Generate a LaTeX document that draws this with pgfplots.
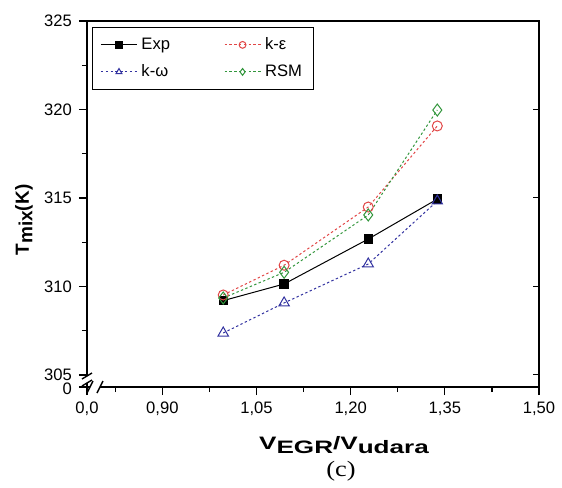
\documentclass[border=0pt]{standalone}
\usepackage{fontspec}
\setmainfont{Liberation Sans}
\newfontfamily\capfont{Liberation Serif}
\usepackage{pgfplots}
\pgfplotsset{compat=1.18}
\definecolor{cred}{RGB}{225,70,70}
\definecolor{cblue}{RGB}{50,50,160}
\definecolor{cgreen}{RGB}{50,150,60}
\begin{document}
\begin{tikzpicture}
\begin{axis}[
    name=ax,
    scale only axis,
    width=226pt, height=183pt,
    xmin=0.780, xmax=1.50,
    ymin=304.32, ymax=325,
    xtick={0.780,0.90,1.05,1.20,1.35,1.50},
    xticklabels={0{,}0,0{,}90,1{,}05,1{,}20,1{,}35,1{,}50},
    minor xtick={0.826,0.975,1.125,1.275,1.425},
    ytick={305,310,315,320,325},
    extra y ticks={304.32}, extra y tick labels={0},
    extra y tick style={yticklabel style={yshift=-1pt}},
    minor ytick={307.5,312.5,317.5,322.5},
    tick align=outside, xtick pos=bottom, ytick pos=left,
    major tick length=4pt, minor tick length=2.5pt,
    tick style={black, line width=0.6pt},
    axis line style={line width=0.8pt},
    ticklabel style={font=\fontsize{8.3}{9}\selectfont},
    /pgf/number format/assume math mode=true,
    clip=false,
    legend columns=2,
    legend cell align=left,
    legend style={at={(rel axis cs:0.011,0.984)}, anchor=north west,
        draw=black, line width=0.5pt, font=\fontsize{8.3}{9}\selectfont,
        inner xsep=4pt, inner ysep=3pt, row sep=2pt,
        /tikz/every even column/.append style={column sep=25pt}},
    legend image code/.code={\draw[mark repeat=2,mark phase=2,#1,mark size=1.7pt]
        plot coordinates {(0pt,0pt) (9pt,0pt) (18pt,0pt)};},
]
% Exp
\addplot[black, line width=0.5pt, mark=square*, mark size=2.1pt] coordinates {
    (0.997,309.20) (1.094,310.14) (1.228,312.68) (1.338,314.94)};
% k-epsilon
\addplot[cred, line width=0.5pt, dash pattern=on 1.2pt off 1.2pt,
    mark=o, mark size=2.5pt, mark options={solid}] coordinates {
    (0.997,309.52) (1.094,311.20) (1.228,314.49) (1.338,319.07)};
% k-omega
\addplot[cblue, line width=0.5pt, dash pattern=on 1.2pt off 1.2pt,
    mark=triangle, mark size=3pt, mark options={solid}] coordinates {
    (0.997,307.37) (1.094,309.07) (1.228,311.27) (1.338,314.83)};
% RSM
\addplot[cgreen, line width=0.5pt, dash pattern=on 1.2pt off 1.2pt,
    mark=diamond, mark size=3pt, mark options={solid}] coordinates {
    (0.997,309.35) (1.094,310.80) (1.228,314.04) (1.338,319.97)};
\legend{Exp, k-ε, k-ω, RSM}
\end{axis}
% right axis ticks (inward)
\foreach \y in {0.0331,0.2749,0.5167,0.7585,1.0} {
  \draw[line width=0.6pt] ([yshift=\y*183pt]ax.south east) -- ++(-3pt,0);
}
% axis breaks
\fill[white] ([xshift=-2pt,yshift=2pt]ax.south west) rectangle ([xshift=2pt,yshift=5.5pt]ax.south west);
\fill[white] ([xshift=1.5pt,yshift=-2pt]ax.south west) rectangle ([xshift=6.5pt,yshift=2pt]ax.south west);
\foreach \d in {2pt,5.5pt} {
  \draw[line width=0.7pt] ([xshift=-2.5pt,yshift=\d-1.5pt]ax.south west) -- ([xshift=2.5pt,yshift=\d+1.5pt]ax.south west);
}
\foreach \d in {1.5pt,6.5pt} {
  \draw[line width=0.7pt] ([xshift=\d-1.5pt,yshift=-3pt]ax.south west) -- ([xshift=\d+1.5pt,yshift=3pt]ax.south west);
}
% labels
\path (ax.south west) ++(-31.5pt,83.5pt) node[rotate=90, font=\fontsize{9.5}{11}\selectfont\bfseries]
    {T\raisebox{-0.35ex}{mix}(K)};
\path (ax.south west) ++(128.5pt,-29pt) node[font=\fontsize{9}{11}\selectfont\bfseries]
    {\scalebox{1.45}[1]{V\raisebox{-0.35ex}{EGR}/V\raisebox{-0.35ex}{udara}}};
\path (ax.south west) ++(127pt,-42pt) node[font=\fontsize{11}{13}\selectfont\capfont]
    {\scalebox{1.2}[1]{(c)}};
% bounding box
\path (ax.south west) ++(-43.5pt,-48pt) rectangle ++(281pt,241.5pt);
\end{tikzpicture}
\end{document}
